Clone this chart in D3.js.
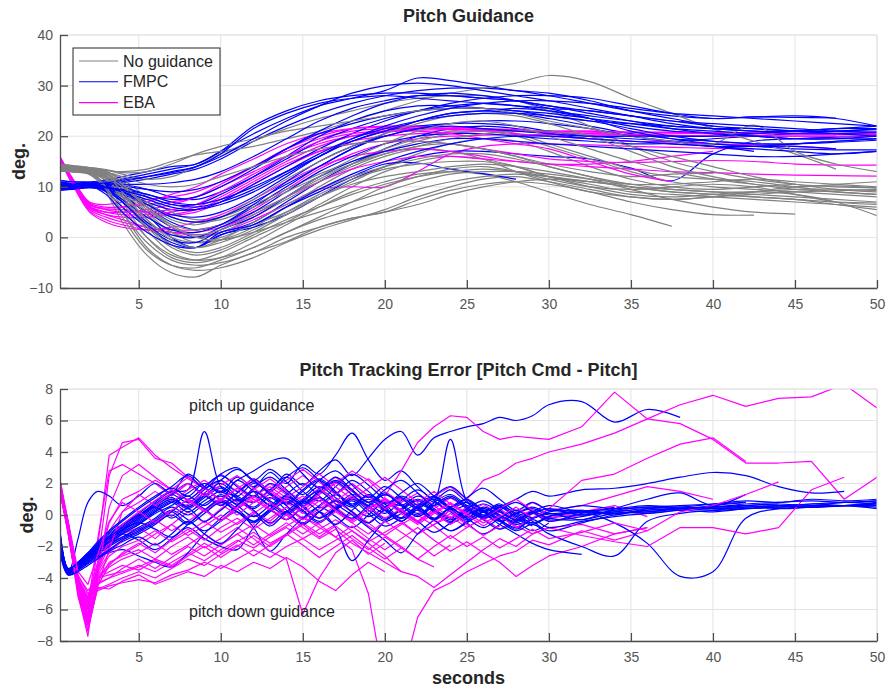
<!DOCTYPE html>
<html>
<head>
<meta charset="utf-8">
<script src="https://cdn.jsdelivr.net/npm/d3@7"></script>
<style>
  body { margin: 0; background: #fff; }
  text { font-family: "Liberation Sans", Arial, Helvetica, sans-serif; }
</style>
</head>
<body>
<svg id="chart" width="889" height="692"></svg>
<script>
// ---- axis ticks ----
const timeTicks = [5, 10, 15, 20, 25, 30, 35, 40, 45, 50];
const pitchTicks = [-10, 0, 10, 20, 30, 40];
const errorTicks = [-8, -6, -4, -2, 0, 2, 4, 6, 8];

// ---- series ----
const seriesNames = ["No guidance", "FMPC", "EBA"];
const seriesColors = ["#808080", "#0000ff", "#ff00ff"];

// sample times (s) shared by the pitch runs
const pitchTimes = [0.2, 1, 2, 3, 4, 5.5, 7, 8.5, 10, 12, 14, 16, 18, 20, 22, 24, 26, 28, 30, 32.5, 35, 37.5, 40, 42.5, 45, 47.5, 50];
// sample times (s) shared by the tracking-error runs
const errorTimes = [0.2, 0.7, 1.3, 1.9, 2.5, 3.2, 4, 5, 6, 7, 8, 9, 10, 11, 12, 13, 14, 15, 16, 17, 18, 19, 20, 21, 22, 23, 24, 25, 26, 27, 28, 29, 30, 32, 34, 36, 38, 40, 42, 44, 46, 48, 50];

// pitch (deg), no guidance
const pitchNoGuidance = [
  [13.5,13.3,12.8,9,3,-3.5,-7,-7.8,-5.5,-3,-0.8,2,3.8,5,7.4,9.3,10.5,11,10.5,9,7,5.5,4.5,4.4],
  [13.8,13.6,13.2,10,5,-2,-5.5,-6.5,-6,-4,-1,1.5,3.5,5.5,8,10,11.5,12,11,9.5,8,7.5,8,8.5,9,9.2,9.5],
  [14,13.8,13.5,11,7,0,-4,-5,-4,-1,2.5,6,9,11,12.5,13,12.5,11,9,6.5,4.5,2.2],
  [13.2,13,12.6,10.5,6,0,-3.5,-4.5,-3,0,3,6.5,10,13,15,16,15.5,14,12,10,8.5,8,8.5,9,8.5,7,4.3],
  [14.3,14,13.6,12.8,10,5,1,-1,-0.5,2,6,10,13.5,16,17.5,17,15.5,13,11,9,8,7.5,8,9,10,10.2,9.8],
  [13.6,13.4,13,12,8.5,3,-1.5,-3,-2,1,4.5,8,11,14,16.5,18.5,19.5,19,17,14,11.5,10,9.5,10,10.5],
  [14.1,13.9,13.6,13,11.5,8,5,3.5,4,6.5,9.5,12.5,15,17.5,19.5,21,21.5,20.5,18.5,16,13.5,12,11.5,11,10,9,8.5],
  [13.4,13.2,12.9,11.8,8,1.5,-3,-4.5,-4,-2,1,4,7,10,12,13.5,14,13,11.5,10,9.5,10,10.5,10,8.5,7,6.5],
  [14.5,14.2,13.8,13.3,12.5,11.5,12,14,16.5,19,21.5,23.5,25,26.5,27.5,28,28,27,25,22,18,15,13,11.5,10.5,10,9.8],
  [14,13.8,13.5,13.2,13,13.5,15,16.3,17,18,19.5,21,23,25,27,28.5,29.5,30.5,32,30.8,27.5,24.5,21.5,19,16.5,13.5],
  [13.7,13.5,13.1,12.2,9.5,4.5,1,0,1,4,7.5,11,14,16.5,18,18.5,17.5,16,14.5,13,12,12.5,12.7],
  [13.9,13.7,13.3,12.5,10,5.5,2.5,1.5,2.5,5,8,11.5,14.5,17,19,20.5,21,20,18,15.5,13,11,10,9.5,9,8.5,8],
  [13.3,13.1,12.7,11.3,7.5,2,-2,-3.5,-2.5,0.5,3.5,6,8.5,10.5,12,13,13.5,13,12,11,10.5,10.5,11,11.5,11,10.5,10],
  [14.2,14,13.7,13,11,7,4,3,3.5,6,9,12,14.5,16.5,18,19.5,20.5,21,21,20,18,16,14,12,10.5,9.5,9],
  [13.6,13.4,13,11.8,8.5,3.5,0,-1,0,2.5,5,8,10.5,12,13,14,14.5,14,13,11.5,9.5,7.5,6,5,4.6],
  [14,13.8,13.4,12.6,10.5,6.5,3.5,2.5,4,7.5,11.5,15,18,20.5,22.5,24,24.5,24,22.5,20,17,14,12,10.5,9.5,9,8.5],
  [13.5,13.3,12.9,11.6,8,2.5,-1.5,-2,-0.5,3,6.5,9.5,12,14,15.5,16.5,16.5,15.5,14,12,10,9,8.5,8,7.5,7,6.8],
  [14.4,14.1,13.8,13.4,12.8,13,14.5,16.5,18,19.5,21,22,23,24,25,25.5,25.5,24.5,23,21.5,20,19,18.5,22.2,17,14.5,13],
  [13.1,12.9,12.4,9.5,4,-2.5,-5.5,-6,-4.5,-2,1,3.5,5.5,7.5,9.5,11,12,12.5,12,11,10,9.5,9,8.5,8,7.5,7],
  [13.8,13.6,13.3,12.9,12,10.5,10,10.5,12,14,16,17.5,18.5,19,19,18.5,17.5,16,14,12,10.5,9.5,9,9,9.5,9.5,9.3],
  [13.4,13.2,12.8,10,5,-1,-4.5,-5.5,-5,-3,0,2,3.8,5,6.5,8.5,10,11,11.5,11,10,9,8.5,8,7.5,6.5,5.5],
  [14.1,13.9,13.5,12.7,10.5,6,2,0.5,1.5,4.5,8,12,15.5,18.5,21,22.5,23,22,20,17.5,15,13,11.5,10.5,10,10.5,11],
  [13.9,13.7,13.2,12.3,9,3.5,-0.5,-2,-1,1.5,5,8.5,11.5,13.5,14.5,15,15,14,12,10.5,9,8.5,8,7.5,7,6.5,6],
  [13.2,13,12.7,12,10,6,2.5,0,-0.5,1,3,5,7,9,11,12.5,13,13,12.5,11.5,10.5]
];

// pitch (deg), FMPC guidance
const pitchFMPC = [
  [10.2,10,10.3,10.5,10.8,11.5,12.5,13.5,15.5,19,22,24.5,26.5,28,29,29.5,29.5,29,28,26.5,25,24,23.5,23.8,23.7,23.6],
  [9.5,9.8,10,9.5,8,5,2,0,1,3,7,11,14.5,17.5,20,21.5,22,21.5,20.5,19.5,19,19,19.5,20,20.5,21,21.3],
  [10.8,10.5,10.6,10.2,9,6,3,1.5,2.5,6,10,14,17.5,20.5,23,24.5,25,24.5,23.5,22,20.5,19.5,19,18.5,18.5,18.8,19.2],
  [11,10.7,10.8,11,11.5,12.5,13.5,14.5,17,20.5,23.5,26,27.5,29,31.5,31,30,29,28.5,27,25,23.5,22,21.5,21,21,21.5],
  [9.8,9.7,10.1,9.8,8.5,4.5,0,-2,0.5,2,4.5,8,11.5,14,16,17,17,16.5,16,15.5,13.7,11.2,16.5,19,19.5,19.8,20],
  [10.5,10.3,10.5,10.7,10.5,9.5,8,7.5,9,12,15.5,19,21.5,23.5,25,26,26.5,26,25,23.5,22,21,20.5,20,19.5,19.5,19.5],
  [10,9.9,10.2,9,6,2,-1,-2,0.5,2.5,6,9,12,14.5,14.7,13.5,12.6,11.5],
  [11.2,11,11,11.3,12,13,14,14.5,17,22,25,27,28,28.5,28.5,28,27.5,27,26,24.5,23,21.5,20.5,20,19.5,19.5,20],
  [9.3,9.5,9.8,9.5,8.5,6.5,4.5,4,5,8,12,16,19,21,22,22.5,22.5,22,21,20,19.5,19,18.5,18,17.5,17.3,17.3],
  [10.4,10.2,10.4,10,9,7,5.5,5.5,7,10.5,14,17.5,20.5,23,25,26.5,27.5,28,28,27.5,26,24.5,23.5,23.8,24,23.5,22],
  [10.9,10.6,10.7,10.3,9.5,8,6.5,6.5,8.5,12,16,20,23,25,26,26,25.5,25,24,23,22.5,22,21.5,21.5,21,20.5,20],
  [9.6,9.6,10,9.2,7,3,0.5,0,2,5,9,13,16,18.5,20,20.5,20.5,20,19.5,19,18.5,18.5,18,17],
  [10.6,10.4,10.6,10.6,10.2,9.5,9,9.5,11,14,17.5,20.5,22.5,24,25,25.5,25.5,25,24.5,23.5,22.5,21.5,21,20.5],
  [10.1,10,10.2,9.6,7.5,4,1.5,1,2.5,6.5,11,15,18,20,21.5,22.5,23,23,22.5,21.5,20,19,18,17.5,17,16.5,17],
  [9.9,9.8,10.1,9.9,9.5,8.5,7,6.5,7.5,10,13,16,19,21,23,24.5,25,25.5,25,24,23,22,21.5,21,20.5,20.5,20.8],
  [10.7,10.5,10.6,10.4,10,8.5,7.5,8,10,13.5,17.5,21,24,26.5,28,28.5,28,27,25.5,23.5,21,19.5,18.5,18,18,17.5],
  [10.3,10.1,10.3,9.5,7,2.5,-0.5,-1,1.5,4,8,12,15,17,18.5,19.5,19.5,19,18.5,18,17.5,17,16.5,16,16,16.5,17],
  [9.7,9.7,10,10.3,11,12,13,14,16.5,21.5,24.5,26.5,27.5,28,27.5,27,26.5,26,25.5,25,24,23,22],
  [10.5,10.3,10.5,10.1,9,6.5,4,3,4,7,10.5,14,17.5,20,21.5,22,21.5,21,20.5,20,20,20,20,20.5,21,21.5,22],
  [11.3,11,10.8,10.6,10.5,10.5,10.8,11.5,13,16,19.5,23,25.5,27,28,28,27.5,27,26,25,24,23,22.5,22,21.5,21,20.8],
  [9.4,9.6,10,9.8,9,7.5,6,5.5,6.5,9,12.5,16,19.5,22,24,25.5,26.5,27,27,26.5,25.5,24.5,24,23.5,23,22.5,22],
  [10,9.9,10.2,8.5,5,1,-1.5,-2,1,2.5,6,9.5,12.5,15,17,18.5,19.5,20,20,19.5,19,18.5,18,18,18.5,19,19.5],
  [10.8,10.5,10.5,10.8,11.3,12,12.8,14,16,19.5,23,26,28.5,30,30.5,30,29,28,27,25.5,24,22.5,21.5,21,21,21.5,21.5],
  [10.2,10,10.3,10,9.3,8,6.5,6,7,9.5,13,16.5,19.5,21.5,23,24,24.5,24.5,24,23,21.5,20,19,18.5,18.5,19,19.5]
];

// pitch (deg), EBA guidance
const pitchEBA = [
  [15.8,11,6.5,5.5,5.5,5,4.5,5,7,10.5,14,17,19,20,20.5,20.8,21,21,21,20.8,20.7,20.6,20.5,20.5,20.5,20.4,20.3],
  [15.5,10.5,5.5,4,3,2,1.5,1.5,2.5,5.5,9.5,13.5,16.5,18.5,19.5,20,20.2,20.3,20.3,20.2,20.2,20.1,20,20,20,20],
  [16,11.5,7,6.5,7,7.5,8,9,11,14,17,19.5,21,21.5,21.5,21.5,21.3,21.2,21,21,20.8,20.8,20.7,20.7,20.6,20.6,20.5],
  [15.3,10.8,6,4.5,3.5,2,1,0.5,1,3.5,6.5,9.5,10,10,13,16.5,18,18.5,18.5,18.3,18,17.8,17.6,17.5],
  [15.7,11.2,6.8,6,6,6.5,7,8,10,13,16,18.5,20,20.8,21.2,21.3,21.2,21,20.8,20.5,20.3,20.2,20,20,20,20,20],
  [15.6,10.6,5.8,4.5,4,4,4.5,5.5,7.5,11,14.5,17,18.5,19,19,18.5,17.5,16.5,15.5,15,14.8,15,15.2,15,14.5,14.3,14.3],
  [15.9,11.4,6.6,5.5,5,5.5,6.5,8,10.5,14,17.5,20,21.5,22,22,21.8,21.5,21.3,21,21,20.8,20.7,20.5,20.5,20.5,20.5,20.5],
  [15.4,10.2,5.2,3.5,2.5,1.5,1,1,2,4.5,8,11,13.5,15,16,16,15.5,15,14.5,14,13.5,13,12.8,12.5,12.3,12.2,12.1],
  [15.8,11,6.2,5,4.5,4.5,5,6,8,11.5,15,18,20,21,21.5,21.5,21,20.5,20,19.5,19,18.8,18.5,18.3,18,17.5],
  [15.5,10.9,6.4,5.8,6,7,8.5,10,12.5,15.5,18.5,20.5,21.5,21.8,21.8,21.5,21.2,21,20.7,20.5,20.3,20.1,20],
  [15.7,10.4,5,3,2,1.5,2,3,4.5,7.5,11,14,16,17,17.5,17,16,15,14.5,14.5,15,16,17],
  [15.6,11,6,5,5,5,5.5,6.5,9,12.5,16,19,20.5,21,21,20.5,19.5,18.5,17.5,15,12.5,11]
];

// tracking error (deg), FMPC guidance
const errorFMPC = [
  [-1.5,-3.6,-3.2,-2.6,-2.0,-1.4,-0.8, -0.2,0.5,1.0,0.6,1.4,2.0,1.2,0.8,1.6,2.4,1.5,0.9,1.8,2.6,1.9,1.0,0.6,1.2,0.8,0.3,0.6,0.2,-0.2,0.1,0.4,0.0, 0.2,0.1,0.3,0.4,0.5,0.5,0.6,0.7,0.8,0.9],
  [-1.2,-3.5,-3.4,-3.0,-2.6,-2.2,-1.7, -1.2,-0.6,0.2,0.9,0.4,-0.3,0.6,1.5,0.9,0.2,1.0,1.8,1.1,0.5,1.3,0.7,-0.2,0.4,1.0,0.3,-0.4,0.2,0.6,-0.1,-0.5,-0.2, 0.0,0.2,0.1,0.3,0.4,0.4,0.5,0.6,0.6,0.7],
  [-2.0,-3.7,-1.5,0.8,1.5,1.2,0.6, 1.2,2.0,1.4,2.6,1.8,1.0,2.2,1.5,0.6,1.3,2.0,1.2,0.4,1.0,0.5,-0.3,0.4,0.9,0.2,-0.4,0.3,-0.2,0.5],
  [-1.8,-3.7,-3.3,-2.8,-2.2,-1.6,-0.9, -0.1,0.8,1.5,1.6,5.3,1.8,1.2,2.0,1.4,0.8,1.6,2.3,1.5,0.7,1.2,0.4,-0.2,0.5,1.1,0.5,-0.1,0.4,0.0,-0.4,0.2,-0.3, -0.1,0.3,0.5,0.4,0.6,0.8],
  [-1.0,-3.4,-3.0,-2.4,-1.9,-1.5,-1.2, -1.6,-2.2,-1.5,-0.6,0.3,1.0,0.4,-0.4,0.3,1.1,0.6,-0.2,0.5,1.3,0.8,0.1,0.9,1.6,0.9,0.2,-0.5,-1.2,-0.6,0.1,-0.4,-1.0, -0.5,0.0,0.3],
  [-2.3,-3.8,-3.5,-3.0,-2.6,-2.4,-2.2, -2.6,-3.0,-3.3,-2.4,-1.2,-0.2,0.6,1.2,0.6,0.0,0.8,1.6,0.9,0.2,-0.5,0.4,1.2,0.6,-0.2,0.5,1.0,0.3,-0.3,-0.8,-0.2,0.3, 0.0,0.2,0.4,0.3,0.5,0.6,0.4,0.5,0.6,0.5],
  [-1.6,-3.6,-3.2,-2.7,-2.1,-1.5,-0.9, -0.5,-0.9,-1.4,-0.8,-1.5,-2.0,-2.2,-0.8,0.2,0.8,0.2,-0.5,0.4,1.1,0.6,-0.2,0.3,0.9,0.3,-0.3,0.2,0.7,0.2,-0.4,-1.0,-0.5],
  [-1.4,-3.5,-3.3,-2.8,-2.3,-1.8,-1.4, -0.9,-0.3,0.3,-0.3,-1.0,-0.4,0.2,-0.8,-2.3,-1.2,-0.2,0.5,-0.1,-0.8,0.0,0.8,0.2,-0.4,-1.1,-0.5,0.2,-0.3,-0.9,-0.4,0.2,-0.2, -0.3,0.1,0.2,0.4,0.3,0.4,0.5,0.7,0.6,0.6],
  [-1.7,-3.6,-3.1,-2.5,-1.9,-1.2,-0.6, 0.0,0.6,1.1,0.5,1.2,1.8,1.0,0.4,1.1,0.3,-0.5,0.2,-0.8,-2.9,-1.6,-0.4,0.4,1.0,0.4,-0.2,0.4,0.9,0.3,-0.3,0.2,0.6, 0.2,0.5],
  [-1.9,-3.7,-3.4,-2.9,-2.4,-1.8,-1.2, -0.6,0.2,0.8,1.4,2.0,1.5,2.4,1.8,2.7,2.0,3.2,2.6,3.8,5.2,3.5,2.2,2.8,1.8,1.0,1.6,0.8,0.2,0.7,0.0,-0.6,-0.1, 0.2,0.4,0.6,0.5,0.7,0.9,0.8,1.0,0.9,1.0],
  [-1.3,-3.5,-3.1,-2.6,-2.0,-1.4,-0.7, 0.0,0.7,1.3,0.8,1.6,2.2,1.5,2.3,1.6,2.6,1.9,2.8,3.5,2.5,3.6,4.8,5.3,3.8,4.9,5.3,5.6,5.8,6.2,6.0,6.3,7.0, 7.2,5.9,6.7,6.2],
  [-1.5,-3.6,-3.2,-2.7,-2.2,-1.6,-1.0, -0.4,0.3,0.9,0.4,1.1,1.7,1.1,0.5,1.3,0.6,-0.2,0.6,1.3,0.6,-0.1,0.5,1.1,0.4,-0.3,0.3,0.8,0.2,-0.4,0.1,0.5,0.1, 0.2,-0.5,-1.8,-3.9,-3.6,-0.2,0.4,0.5,0.6,0.7],
  [-1.1,-3.4,-3.0,-2.5,-1.9,-1.3,-0.6, 0.1,0.9,1.5,1.0,1.8,2.5,1.8,1.2,2.0,1.4,0.7,1.5,2.2,1.5,0.8,1.4,0.6,0.0,0.8,1.3,0.6,0.0,0.5,1.0,1.5,1.2, 1.6,1.7,2.0,2.4,2.7,2.5,1.8,1.4,1.5],
  [-1.6,-3.6,-3.3,-2.9,-2.4,-1.9,-1.4, -0.8,-0.2,0.5,0.0,0.7,1.2,0.6,-0.1,0.6,1.2,0.5,-0.2,0.4,1.0,0.3,-0.4,0.1,0.7,0.2,-0.5,0.0,0.4,-0.1,-0.6,-0.2,0.1, -0.3,0.4,1.0,1.4,0.6,1.3],
  [-2.1,-3.7,-3.4,-3.0,-2.5,-2.0,-1.5, -1.0,-0.4,0.2,-0.5,0.3,0.9,0.2,-0.5,0.4,1.0,0.3,-0.4,0.3,0.9,0.1,-0.7,-0.2,0.5,-0.3,-1.0,-0.5,0.0,-0.6,-1.2,-1.8,-2.2, -2.5],
  [-1.2,-3.5,-3.1,-2.6,-2.0,-1.5,-1.0, -0.3,0.4,1.0,0.5,1.2,0.6,1.4,2.1,1.3,0.7,1.5,2.2,1.4,0.6,1.3,0.5,-0.2,0.6,1.2,0.4,-0.3,0.2,-0.4,-1.0,-0.6,-1.2, -2.0,-2.6,-0.4,0.1,0.3,0.5,0.6,0.5,0.6,0.8],
  [-1.5,-3.6,-3.3,-2.8,-2.2,-1.7,-1.1, -0.5,0.2,0.8,0.2,0.9,1.5,0.9,1.7,2.4,1.6,0.8,1.5,2.1,1.3,0.6,1.3,0.7,0.1,0.8,4.8,0.9,0.2,0.6,0.1,-0.5,-0.1, 0.3,0.0,0.4,0.5,0.4,0.6,0.7],
  [-1.8,-3.7,-3.3,-2.8,-2.3,-1.7,-1.2, -0.6,0.1,0.6,1.2,0.6,1.3,0.7,1.5,0.8,0.1,0.9,1.5,0.7,0.0,-0.8,-1.6,-2.4,-1.2,-0.3,0.4,-0.2,0.5,0.0,-0.5,0.1,0.4, 0.0,0.3],
  [-1.4,-3.5,-3.2,-2.7,-2.1,-1.5,-0.9, -0.2,0.6,1.3,2.0,1.3,2.2,2.9,2.2,1.5,2.4,3.0,2.2,1.4,2.2,1.5,0.7,1.4,2.0,1.2,0.5,1.1,1.7,1.0,0.3,0.8,0.3, 0.6,0.4,0.5,0.6,0.7,0.8],
  [-1.7,-3.6,-3.2,-2.6,-2.0,-1.4,-0.8, -0.1,0.5,-0.2,0.4,-0.4,0.3,1.0,0.3,-0.5,0.2,-0.6,0.2,0.9,0.2,-0.5,0.3,-0.4,0.4,-0.3,-1.0,-0.4,0.3,-0.3,-0.9,-0.3,-0.8, -0.4,-0.1,0.1,0.3,0.2,0.4,0.6,0.5,0.6,0.4],
  [-1.3,-3.5,-3.1,-2.5,-1.8,-1.1,-0.4, 0.4,1.1,1.7,1.2,2.0,1.4,2.2,2.8,3.4,3.6,2.6,1.7,2.4,1.6,0.8,1.6,2.2,1.4,0.6,1.1,0.4,-0.1,0.5,-0.2,-0.7],
  [-1.9,-3.8,-3.5,-3.1,-2.7,-2.2,-1.6, -1.1,-0.5,0.0,-0.6,0.1,0.8,0.2,-0.4,0.3,-0.3,0.5,1.1,0.4,-0.2,0.6,1.3,0.6,-0.1,0.6,1.2,0.5,-0.2,0.3,0.8,0.2,-0.4, 0.1,0.3,0.2,0.4,0.5,0.7,0.8,0.9,0.8,0.9],
  [-1.0,-3.4,-3.0,-2.4,-1.7,-1.0,-0.3, 0.5,1.2,1.8,2.5,1.7,2.6,3.0,2.2,2.9,2.1,1.3,2.2,2.8,1.9,1.1,1.8,1.1,0.4,1.2,1.8,1.0,0.3],
  [-2.4,-3.8,-3.6,-3.2,-2.8,-2.3,-1.9, -1.4,-1.9,-1.2,-0.4,-1.2,-1.8,-0.9,0.0,-0.7,0.2,0.9,0.2,-0.6,0.3,1.0,0.3,-0.4,0.3,-0.3,0.4,-0.2,-0.8,-0.2,0.3,-0.2,0.2, 0.3,0.1,0.3,0.4,0.5,0.6,0.7,0.6,0.8,0.7]
];

// tracking error (deg), EBA guidance
const errorEBA = [
  [2.3,-0.8,-4.5,-6.5,-2.0,3.8,4.3, 4.9,3.8,3.0,2.3,1.7,2.2,1.5,0.8,1.6,0.9,0.3,1.1,0.5,-0.3,0.4,1.0,0.2,-0.5,0.3,-0.2,0.4,-0.3,0.2,-0.4,0.1,-0.2],
  [2.1,-1.0,-5.0,-7.7,-3.0,2.5,4.6, 4.8,3.6,3.3,2.4,1.8,2.6,1.9,1.1,2.0,1.3,0.5,1.4,2.1,1.3,0.4,1.0,0.3,-0.4,0.4,1.1,0.5,-0.2,0.6,-0.1,0.3,-0.3],
  [1.8,-0.6,-4.0,-5.8,-1.5,2.8,3.2, 2.6,2.0,1.2,2.0,1.3,0.6,1.4,2.2,1.4,0.6,1.2,0.5,1.3,2.0,1.2,0.4,1.1,0.4,-0.3,0.5,1.0,0.3,-0.4,0.2,0.8,0.3, 0.6,1.2,1.8,1.5,1.0],
  [1.6,-0.9,-4.2,-5.5,-4.8,-4.5,-4.3, -4.1,-4.3,-3.8,-3.5,-3.0,-3.4,-2.8,-2.2,-2.7,-2.0,-1.5,-2.2,-1.6,-1.0,-1.8,-2.6,-3.6],
  [2.0,-0.7,-4.8,-7.0,-4.0,-3.8,-3.6, -3.2,-3.6,-3.0,-2.4,-2.9,-2.2,-1.6,-2.1,-1.4,-0.8,-1.5,-0.9,-0.3,-1.0,-1.7,-1.1,-0.5,-1.2,-0.6,-0.1,-0.8,-0.2,0.4,-0.3,0.2,-0.4, 0.0],
  [1.9,-0.5,-3.8,-5.0,-4.3,-4.0,-3.7, -3.3,-2.8,-3.2,-2.5,-1.8,-2.4,-1.7,-1.1,-1.8,-1.2,-0.5,-1.2,-0.6,0.1,-0.7,-1.3,-0.6,0.0,-0.7,-1.5,-0.8,-0.2,-0.9,-0.3,0.3,-0.2, 0.2,0.6,-0.1],
  [1.7,-1.0,-4.5,-6.2,-4.6,-4.7,-4.2, -3.8,-4.4,-4.0,-3.6,-3.9,-3.2,-3.6,-3.0,-3.4,-2.7,-3.3,-4.2,-4.8,-3.8,-3.0,-3.6],
  [2.2,-0.7,-4.3,-6.0,-3.5,-2.0,-1.2, -0.8,-1.5,-0.6,0.2,-0.5,0.4,1.0,0.2,-0.4,0.5,-0.2,-0.6,-1.4,-2.2,-5.0,-11,-10.5,-6.5,-4.8,-4.3,-3.6,-3.1,-2.6,-2.3,-1.6,-1.9, -1.0,-1.6,-1.0],
  [1.5,-1.1,-4.6,-6.8,-4.2,-3.0,-2.6, -2.2,-2.8,-2.0,-1.4,-2.1,-1.5,-0.8,-1.5,-2.3,-2.8,-6.3,-4.0,-2.4,-1.6,-2.5,-1.8],
  [1.8,-0.8,-4.4,-5.8,-3.8,-2.6,-2.0, -1.6,-1.0,-1.7,-1.1,-0.4,-1.1,-0.5,0.2,-0.6,0.0,-0.8,-1.5,-0.9,-1.8,-2.4,-3.0,-3.6,-3.9,-4.6,-3.8,-3.0,-2.2,-1.5,-2.0,-1.2,-0.8, -0.6,-1.2,-0.8],
  [1.4,-1.0,-4.7,-6.6,-4.0,-3.3,-2.8, -2.4,-1.8,-2.5,-1.9,-1.2,-1.9,-1.2,-0.6,-1.3,-0.7,-0.1,-0.8,-1.4,-0.7,-1.5,-2.2,-1.5,-0.8,-1.6,-2.3,-1.7,-2.4,-3.0,-3.9,-3.2,-2.6, -2.0,-1.2,-0.8],
  [2.0,-0.5,-4.0,-5.2,-3.0,-1.0,0.2, 0.8,1.5,0.8,1.6,2.2,1.5,0.8,1.6,2.3,1.5,0.9,1.7,2.4,1.6,0.8,0.3,1.0,0.6,1.2,1.8,1.0,2.2,2.6,3.3,3.6,4.0, 4.5,5.2,6.1,7.0,7.6,6.9,7.4,7.5,8.3,6.8],
  [1.7,-0.8,-4.3,-6.0,-3.2,-0.5,1.0, 1.5,2.2,1.6,0.9,1.7,1.0,0.4,1.2,1.8,1.1,0.5,1.3,2.0,2.8,2.2,1.2,2.8,4.6,5.6,6.3,6.2,5.3,4.8,5.0,4.9,4.8, 5.6,7.8,6.1,5.8,4.8,3.3,3.3,3.4,1.0,2.4],
  [1.6,-0.9,-4.2,-5.6,-3.6,-2.4,-1.6, -1.0,-0.3,-1.0,-0.4,0.3,-0.4,0.4,1.0,0.3,-0.3,0.5,-0.2,0.6,1.2,0.5,-0.2,0.4,-0.4,0.2,0.8,0.1,-0.5,0.0,-0.7,-1.2,-0.8, -1.3,-1.7,-2.0,-0.8,-0.8,-1.2,-0.8,1.6,2.4],
  [1.9,-0.6,-4.1,-5.3,-3.3,-1.8,-0.8, -0.2,0.6,-0.1,0.7,1.4,0.7,0.0,0.8,1.5,0.8,0.1,0.9,0.3,-0.4,0.4,1.1,0.3,-0.5,0.2,-0.6,0.1,0.7,0.0,-0.8,-0.2,0.4, 2.2,2.6,3.6,4.5,4.9,3.4],
  [1.5,-1.1,-4.9,-7.3,-4.5,-3.2,-2.4, -1.8,-2.4,-1.6,-0.9,-1.6,-0.8,-0.2,-0.9,-0.2,0.5,-0.3,0.4,1.0,0.2,-0.5,0.3,-0.4,-1.2,-0.6,0.1,-0.6,-1.3,-0.7],
  [2.1,-0.7,-4.4,-6.3,-3.4,-1.5,-0.6, 0.2,0.9,1.6,0.9,0.2,1.0,1.7,1.0,0.3,1.1,1.8,2.6,1.8,1.0,1.7,2.4,1.6,0.8,1.5,0.7,0.0],
  [1.8,-1.0,-4.6,-6.9,-4.4,-4.0,-3.4, -2.8,-3.4,-2.7,-2.0,-2.6,-1.9,-1.2,-1.9,-1.2,-0.5,-1.2,-0.5,0.2,-0.5,-1.2,-0.4,-1.1,-1.8,-2.6,-1.9],
  [1.6,-0.8,-4.1,-5.4,-3.9,-3.1,-2.5, -1.9,-1.2,-0.6,-1.3,-0.7,0.0,-0.6,0.1,0.8,0.1,-0.6,0.2,0.9,0.2,-0.5,-1.3,-2.0,-2.8,-3.3],
  [2.0,-1.1,-5.2,-7.4,-4.5,-2.2,0.2, 1.3,0.6,1.4,2.0,1.2,1.9,2.5,1.7,1.0,1.8,2.5,1.7,0.9,1.6,2.3,1.5,0.8,1.4,0.6,-0.2,0.5,-0.3,0.4,1.0,0.3],
  [1.7,-1.2,-4.8,-6.6,-3.8,0.5,2.5, 3.2,2.4,1.6,2.4,1.7,0.9,1.7,2.3,1.5,2.2,2.9,2.1,1.3,2.0,1.2,0.4,1.1,0.3,-0.4,0.3,-0.5],
  [1.9,-0.5,-3.9,-4.8,-4.0,-3.6,-3.2, -3.5,-2.9,-3.3,-2.6,-2.0,-2.7,-2.0,-1.3,-2.0,-1.3,-0.6,-1.4,-0.7,-1.5,-2.2,-1.4,-2.1,-2.8,-2.0,-1.3,-2.0,-1.4,-2.1,-1.5,-0.9,-1.5, -1.1,-0.5,-1.0,0.2,0.6,1.3,2.1],
  [1.5,-1.2,-4.9,-7.0,-4.7,-4.4,-4.0, -3.6,-4.0,-3.4,-2.8,-3.2,-2.5,-1.9,-2.6,-1.9,-1.2,-1.9,-2.7,-2.0,-1.3,-2.1,-2.8,-2.1],
  [2.2,-0.4,-3.6,-4.4,-2.5,-0.4,0.8, 0.2,-0.5,0.3,1.0,0.3,-0.4,0.5,1.2,0.4,-0.3,0.5,1.1,0.3,-0.5,0.2,0.9,0.1,-0.6,0.1,0.7,0.0,-0.7,-0.1,0.5,-0.2]
];

// ---- layout ----
const svg = d3.select("#chart");
svg.append("rect").attr("width", 889).attr("height", 692).attr("fill", "#fff");

const x = d3.scaleLinear().domain([0.2, 50]).range([60, 877]);

const gridColor = "#e3e3e3";
const axisColor = "#4d4d4d";
const textColor = "#262626";

function drawPanel(cfg) {
  const y = d3.scaleLinear().domain(cfg.domain).range([cfg.bottom, cfg.top]);
  const g = svg.append("g");
  const [x0, x1] = x.range();

  // grid
  g.selectAll(".vg").data(timeTicks).join("line")
    .attr("x1", d => x(d)).attr("x2", d => x(d))
    .attr("y1", cfg.top).attr("y2", cfg.bottom)
    .attr("stroke", gridColor).attr("stroke-width", 1);
  g.selectAll(".hg").data(cfg.ticks).join("line")
    .attr("x1", x0).attr("x2", x1)
    .attr("y1", d => y(d)).attr("y2", d => y(d))
    .attr("stroke", gridColor).attr("stroke-width", 1);

  // clip for the runs
  const clipId = "clip-" + cfg.id;
  svg.append("clipPath").attr("id", clipId).append("rect")
    .attr("x", x0).attr("y", cfg.top).attr("width", x1 - x0).attr("height", cfg.bottom - cfg.top);
  const runs = g.append("g").attr("clip-path", `url(#${clipId})`);

  // interleave the runs of each series, run by run
  const n = d3.max(cfg.series, s => s.data.length);
  for (let i = 0; i < n; i++) {
    cfg.series.forEach(s => {
      const vals = s.data[i];
      if (!vals) return;
      const line = d3.line()
        .defined((d, j) => j < cfg.times.length)
        .x((d, j) => x(cfg.times[j]))
        .y(d => y(d))
        .curve(s.curve);
      runs.append("path")
        .attr("d", line(vals))
        .attr("fill", "none")
        .attr("stroke", s.color)
        .attr("stroke-width", 1.2)
        .attr("stroke-linejoin", "round");
    });
  }

  // frame: top and right edges light, left and bottom axes dark
  g.append("line").attr("x1", x0).attr("x2", x1).attr("y1", cfg.top).attr("y2", cfg.top)
    .attr("stroke", gridColor);
  g.append("line").attr("x1", x1).attr("x2", x1).attr("y1", cfg.top).attr("y2", cfg.bottom)
    .attr("stroke", gridColor);

  const xAxis = d3.axisBottom(x).tickValues(timeTicks).tickSizeInner(-8).tickSizeOuter(0).tickPadding(11);
  const yAxis = d3.axisLeft(y).tickValues(cfg.ticks).tickSizeInner(-8).tickSizeOuter(0).tickPadding(7);

  const gx = g.append("g").attr("transform", `translate(0,${cfg.bottom})`).call(xAxis);
  const gy = g.append("g").attr("transform", `translate(${x0},0)`).call(yAxis);
  [gx, gy].forEach(a => {
    a.select(".domain").attr("stroke", axisColor).attr("stroke-width", 1.3);
    a.selectAll(".tick line").attr("stroke", axisColor).attr("stroke-width", 1.3);
    a.selectAll(".tick text").attr("fill", "#555").style("font-size", "14px")
      .style("font-family", "'Liberation Sans', Arial, sans-serif");
  });

  // title
  g.append("text").attr("x", (x0 + x1) / 2).attr("y", cfg.top - 13)
    .attr("text-anchor", "middle").attr("fill", textColor)
    .style("font-size", "18px").style("font-weight", "bold").text(cfg.title);

  // y label
  g.append("text")
    .attr("transform", `translate(${cfg.ylabelX},${(cfg.top + cfg.bottom) / 2}) rotate(-90)`)
    .attr("text-anchor", "middle").attr("fill", textColor)
    .style("font-size", "18px").style("font-weight", "bold").text("deg.");

  return { y, g };
}

// upper panel: pitch guidance
const pitchPanel = drawPanel({
  id: "pitch", top: 35, bottom: 288, domain: [-10, 40], ticks: pitchTicks,
  title: "Pitch Guidance", ylabelX: 25, times: pitchTimes,
  series: [
    { data: pitchNoGuidance, color: seriesColors[0], curve: d3.curveCatmullRom.alpha(0.5) },
    { data: pitchFMPC, color: seriesColors[1], curve: d3.curveCatmullRom.alpha(0.5) },
    { data: pitchEBA, color: seriesColors[2], curve: d3.curveCatmullRom.alpha(0.5) }
  ]
});

// lower panel: pitch tracking error
const errorPanel = drawPanel({
  id: "error", top: 389, bottom: 641, domain: [-8, 8], ticks: errorTicks,
  title: "Pitch Tracking Error [Pitch Cmd - Pitch]", ylabelX: 33, times: errorTimes,
  series: [
    { data: errorEBA, color: seriesColors[2], curve: d3.curveLinear },
    { data: errorFMPC, color: seriesColors[1], curve: d3.curveCatmullRom.alpha(0.5) }
  ]
});

// x label
svg.append("text").attr("x", 468.5).attr("y", 684)
  .attr("text-anchor", "middle").attr("fill", textColor)
  .style("font-size", "18px").style("font-weight", "bold").text("seconds");

// annotations on the error panel
errorPanel.g.append("text").attr("x", 189).attr("y", 411)
  .attr("fill", textColor).style("font-size", "16px").text("pitch up guidance");
errorPanel.g.append("text").attr("x", 189).attr("y", 617)
  .attr("fill", textColor).style("font-size", "16px").text("pitch down guidance");

// legend
const legend = svg.append("g").attr("transform", "translate(73,48)");
legend.append("rect").attr("width", 147).attr("height", 67)
  .attr("fill", "#fff").attr("stroke", textColor).attr("stroke-width", 1);
seriesNames.forEach((name, i) => {
  const yy = 13 + i * 20.8;
  legend.append("line").attr("x1", 6).attr("x2", 45).attr("y1", yy).attr("y2", yy)
    .attr("stroke", seriesColors[i]).attr("stroke-width", 1.1);
  legend.append("text").attr("x", 50).attr("y", yy + 5.5).attr("fill", textColor)
    .style("font-size", "16px").text(name);
});
</script>
</body>
</html>
